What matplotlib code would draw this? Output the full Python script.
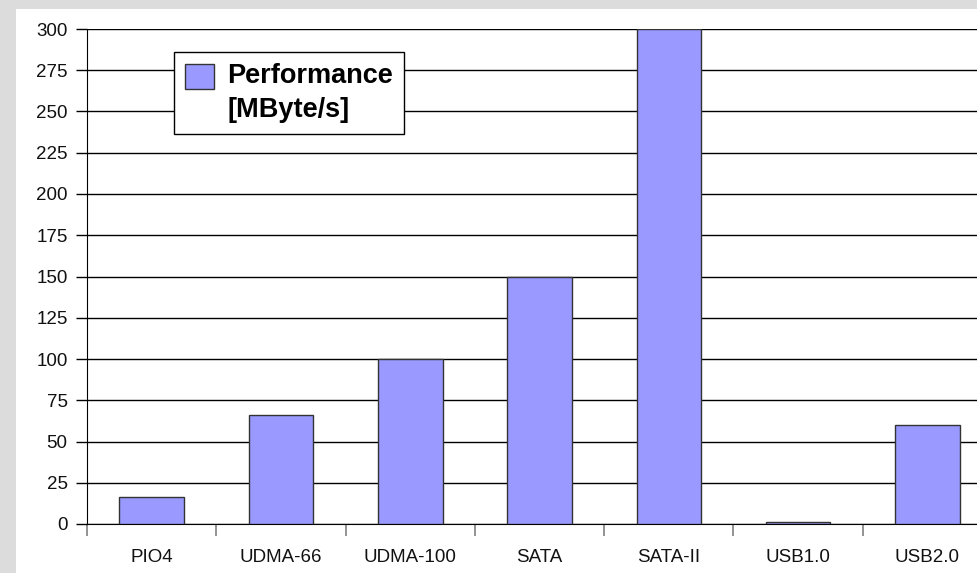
import matplotlib
matplotlib.use("Agg")
import matplotlib.pyplot as plt
from matplotlib.patches import Rectangle
from matplotlib.legend_handler import HandlerPatch

categories = ["PIO4", "UDMA-66", "UDMA-100", "SATA", "SATA-II", "USB1.0", "USB2.0"]
values = [16.6, 66, 100, 150, 300, 1.5, 60]
yticks = [0, 25, 50, 75, 100, 125, 150, 175, 200, 225, 250, 275, 300]
series_label = "Performance\n[MByte/s]"

plt.rcParams['font.family'] = ['Liberation Sans', 'DejaVu Sans']

W, H = 978, 573
fig = plt.figure(figsize=(W/100, H/100), dpi=100)
fig.patch.set_facecolor("#dcdcdc")
# white chart area
fig.patches.append(Rectangle((16/W, 0), 1, 1 - 9/H, transform=fig.transFigure,
                             facecolor="white", edgecolor="none", zorder=-10))

left = 87/W
bottom = (H - 524)/H
width = 7*129.3/W
height = 495/H
ax = fig.add_axes([left, bottom, width, height])
ax.set_facecolor("white")

x = list(range(len(categories)))
bars = ax.bar(x, values, width=0.5, color="#9999ff", edgecolor="#333333",
              linewidth=1.0, zorder=3, label=series_label)

ax.set_xlim(-0.5, len(categories) - 0.5)
ax.set_ylim(0, 300)
ax.set_yticks(yticks)
ax.yaxis.grid(True, color="black", linewidth=1.0, zorder=0)
ax.set_axisbelow(True)

ax.set_xticks([-0.5] + [i + 0.5 for i in range(len(categories) - 1)])
ax.set_xticklabels([])
ax.set_xticks(x, minor=True)
ax.set_xticklabels(categories, minor=True)
ax.tick_params(axis="x", which="major", length=8.5, width=1.2, color="#808080", direction="out")
ax.tick_params(axis="x", which="minor", length=0, pad=18, labelsize=13.5, labelcolor="#111111")
ax.tick_params(axis="y", length=8, width=1, color="black", direction="out",
               labelsize=13.5, labelcolor="#111111", pad=6)
ax.xaxis.get_major_ticks()[0].tick1line.set_color("black")

for s in ["top", "right"]:
    ax.spines[s].set_visible(False)
ax.spines["left"].set_color("black")
ax.spines["bottom"].set_color("black")


def shifted_patch(legend, orig_handle, xdescent, ydescent, width, height, fontsize):
    return Rectangle((-xdescent, -ydescent + 0.64 * fontsize), width, height)


def copy_first(handle, orig):
    handle.update_from(orig.patches[0])


leg = ax.legend(loc="upper left", bbox_to_anchor=((174 - 87)/(7*129.3), 1 - (52 - 29)/495),
                frameon=True, fancybox=False, framealpha=1, edgecolor="black",
                prop={"weight": "bold", "size": 19.5}, handlelength=1.07, handleheight=1.07,
                borderpad=0.4, handletextpad=0.5, borderaxespad=0,
                handler_map={type(bars): HandlerPatch(patch_func=shifted_patch,
                                                      update_func=copy_first)})
leg.get_frame().set_linewidth(1.0)
for t in leg.get_texts():
    t.set_linespacing(1.42)

fig.savefig("out.png", dpi=100, facecolor=fig.get_facecolor())
